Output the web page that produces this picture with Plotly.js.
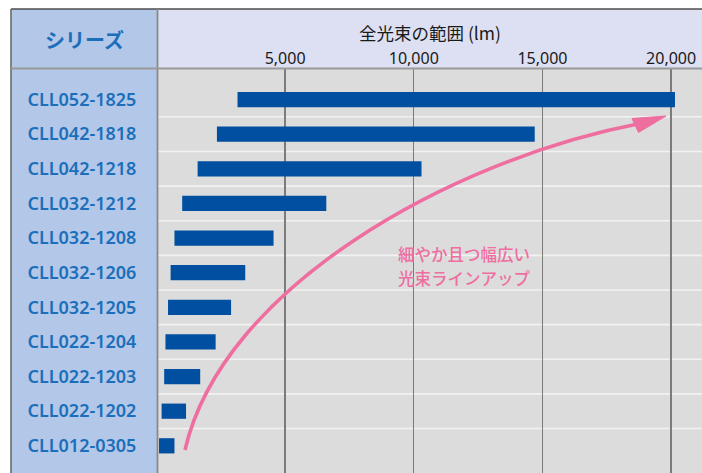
<!DOCTYPE html>
<html>
<head>
<meta charset="utf-8">
<script src="https://cdn.plot.ly/plotly-3.0.1.min.js"></script>
<style>html,body{margin:0;padding:0;background:#fff;}#chart{width:702px;height:473px;}</style>
</head>
<body>
<div id="chart"></div>
<script>
// ---- data ----
const seriesNames = ['CLL052-1825','CLL042-1818','CLL042-1218','CLL032-1212','CLL032-1208','CLL032-1206','CLL032-1205','CLL022-1204','CLL022-1203','CLL022-1202','CLL012-0305'];
const lumenMin = [3150, 2350, 1600, 1000, 700, 550, 450, 350, 300, 200, 100];
const lumenMax = [20150, 14700, 10300, 6600, 4550, 3450, 2900, 2300, 1700, 1150, 700];
const tickValues = [5000, 10000, 15000, 20000];
const tickLabels = ['5,000', '10,000', '15,000', '20,000'];
const axisTitle = '全光束の範囲 (lm)';
const headerLabel = 'シリーズ';
const noteLines = ['細やか且つ幅広い', '光束ラインアップ'];

// ---- geometry helpers (pixel -> paper) ----
const W = 702, H = 473, L = 158, T = 69, R = 0, B = 0;
const PW = W - L - R, PH = H - T - B;
const px = x => (x - L) / PW;
const py = y => (H - B - y) / PH;

const blue = '#1b6fba';
const pink = '#ee6ea0';

const trace = {
  type: 'bar',
  orientation: 'h',
  y: seriesNames,
  base: lumenMin,
  x: lumenMax.map((v, i) => v - lumenMin[i]),
  width: 0.44,
  marker: {color: '#004fa0', line: {width: 0}},
  hovertemplate: '%{y}: %{base:,} – %{x:,}<extra></extra>'
};

const shapes = [];
// table background cells
shapes.push({type:'rect', xref:'paper', yref:'paper', x0:px(11), x1:px(L), y0:py(9), y1:py(H), fillcolor:'#b3c7e8', line:{width:0}, layer:'below'});
shapes.push({type:'rect', xref:'paper', yref:'paper', x0:px(L), x1:px(W), y0:py(9), y1:py(T), fillcolor:'#dde0f2', line:{width:0}, layer:'below'});
// row separators (category boundaries)
for (let i = 0; i < seriesNames.length - 1; i++) {
  shapes.push({type:'line', xref:'paper', yref:'y', x0:0, x1:1, y0:i + 0.5, y1:i + 0.5, line:{color:'#f2f2f2', width:1.6}, layer:'below'});
}
// table borders
shapes.push({type:'line', xref:'paper', yref:'paper', x0:px(11), x1:px(W), y0:py(9), y1:py(9), line:{color:'#4d4d4d', width:1.6}, layer:'above'});
shapes.push({type:'line', xref:'paper', yref:'paper', x0:px(11), x1:px(11), y0:py(9), y1:py(H), line:{color:'#6a6a6a', width:1.6}, layer:'above'});
shapes.push({type:'line', xref:'paper', yref:'paper', x0:px(L - 0.5), x1:px(L - 0.5), y0:py(9), y1:py(H), line:{color:'#8a8a8a', width:1.8}, layer:'above'});
shapes.push({type:'line', xref:'paper', yref:'paper', x0:px(11), x1:px(W), y0:py(T - 0.5), y1:py(T - 0.5), line:{color:'#9a9a9a', width:2}, layer:'above'});
// pink curved arrow
const p = (x, y) => px(x).toFixed(5) + ',' + py(y).toFixed(5);
shapes.push({type:'path', xref:'paper', yref:'paper',
  path: 'M' + p(185, 450) + ' C' + p(222, 288) + ' ' + p(450, 160) + ' ' + p(640, 123.5),
  line:{color:pink, width:3.6}, layer:'above'});
shapes.push({type:'path', xref:'paper', yref:'paper',
  path: 'M' + p(666, 116) + ' L' + p(632, 118.5) + ' L' + p(638.5, 132.5) + ' Z',
  fillcolor:pink, line:{color:pink, width:1}, layer:'above'});

const layout = {
  width: W, height: H,
  margin: {l: L, r: R, t: T, b: B, pad: 0},
  paper_bgcolor: '#ffffff',
  plot_bgcolor: '#dcdcdc',
  showlegend: false,
  bargap: 0.56,
  xaxis: {
    side: 'top',
    range: [60, 21200],
    tickmode: 'array',
    tickvals: tickValues,
    ticktext: tickLabels,
    tickfont: {family: 'Noto Sans, sans-serif', size: 16, color: '#1a1a1a'},
    ticks: 'outside', ticklen: 1, tickcolor: 'rgba(0,0,0,0)',
    ticklabelstandoff: -3,
    showgrid: true, gridcolor: '#7b7b7b', gridwidth: 1.4,
    zeroline: false, showline: false,
    automargin: false,
    title: {text: axisTitle, standoff: 1, font: {family: 'Noto Sans CJK JP, sans-serif', size: 17.5, color: '#1a1a1a'}},
    fixedrange: true
  },
  yaxis: {
    type: 'category',
    categoryorder: 'array',
    categoryarray: seriesNames,
    range: [10.785, -0.881],
    showgrid: false, zeroline: false, showline: false,
    ticks: 'outside', ticklen: 17, tickcolor: 'rgba(0,0,0,0)',
    tickfont: {family: 'Noto Sans, sans-serif', size: 18, weight: 600, color: blue},
    automargin: false,
    fixedrange: true
  },
  shapes: shapes,
  annotations: [
    {xref:'paper', yref:'paper', x:px(84), y:py(40), xanchor:'center', yanchor:'middle', showarrow:false,
     text: headerLabel, font:{family:'Noto Sans CJK JP, sans-serif', size:20, weight:700, color:blue}},
    {xref:'paper', yref:'paper', x:px(396), y:py(254), xanchor:'left', yanchor:'middle', align:'left', showarrow:false,
     text: noteLines[0], font:{family:'Noto Sans CJK JP, sans-serif', size:16.5, weight:500, color:pink}},
    {xref:'paper', yref:'paper', x:px(396), y:py(277.5), xanchor:'left', yanchor:'middle', align:'left', showarrow:false,
     text: noteLines[1], font:{family:'Noto Sans CJK JP, sans-serif', size:16.5, weight:500, color:pink}}
  ]
};

Plotly.newPlot('chart', [trace], layout, {displayModeBar: false, staticPlot: true});
</script>
</body>
</html>
